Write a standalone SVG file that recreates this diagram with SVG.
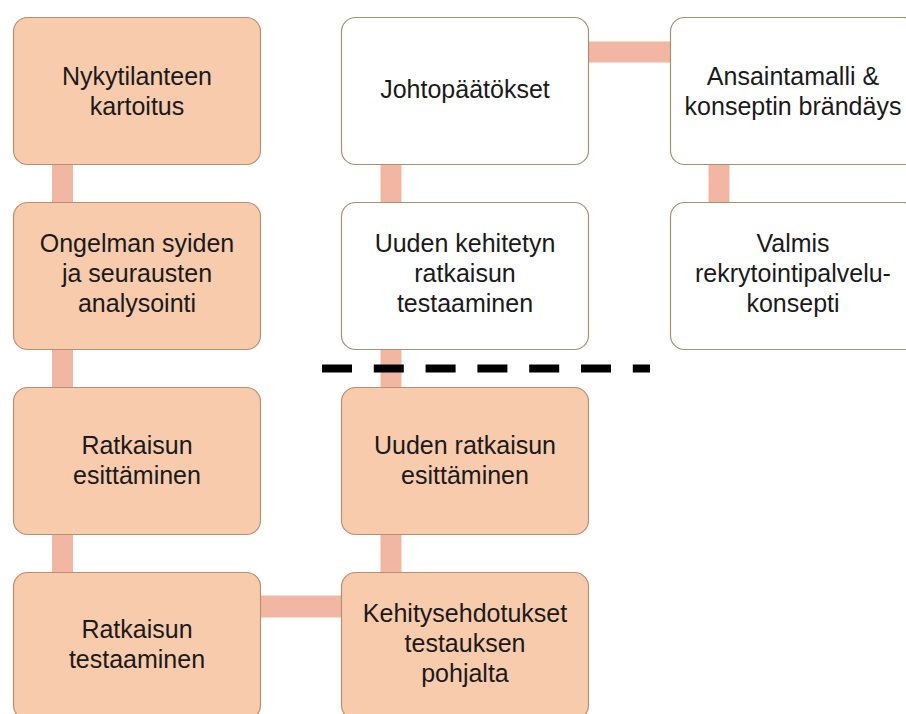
<svg xmlns="http://www.w3.org/2000/svg" width="906" height="714" viewBox="0 0 906 714">
<style>
.o{fill:#F8CBAD;stroke:#B8906F;stroke-width:1.2}
.w{fill:#FFFFFF;stroke:#A8916F;stroke-width:1.2}
.c{stroke:#F2B7A2;fill:none}
text{font-family:"Liberation Sans",Arial,sans-serif;font-size:25px;fill:#1a1a1a;text-anchor:middle}
</style>
<rect width="906" height="714" fill="#FFFFFF"/>
<g id="connectors">
<line class="c" x1="62.5" y1="91" x2="62.5" y2="646" stroke-width="21"/>
<line class="c" x1="391" y1="91" x2="391" y2="646" stroke-width="21"/>
<line class="c" x1="719" y1="91" x2="719" y2="276" stroke-width="21"/>
<line class="c" x1="465" y1="52" x2="794" y2="52" stroke-width="21"/>
<line class="c" x1="137" y1="606.5" x2="465" y2="606.5" stroke-width="22"/>
</g>
<g id="n1"><rect class="o" x="13.5" y="17.5" width="247" height="147" rx="14"/><text x="137" y="85">Nykytilanteen</text><text x="137" y="115">kartoitus</text></g>
<g id="n2"><rect class="o" x="13.5" y="202.5" width="247" height="147" rx="14"/><text x="137" y="252">Ongelman syiden</text><text x="137" y="282">ja seurausten</text><text x="137" y="312">analysointi</text></g>
<g id="n3"><rect class="o" x="13.5" y="387.5" width="247" height="147" rx="14"/><text x="137" y="454">Ratkaisun</text><text x="137" y="484">esittäminen</text></g>
<g id="n4"><rect class="o" x="13.5" y="572.5" width="247" height="147" rx="14"/><text x="137" y="638">Ratkaisun</text><text x="137" y="668">testaaminen</text></g>
<g id="n5"><rect class="o" x="341.5" y="572.5" width="247" height="147" rx="14"/><text x="465" y="622">Kehitysehdotukset</text><text x="465" y="652">testauksen</text><text x="465" y="682">pohjalta</text></g>
<g id="n6"><rect class="o" x="341.5" y="387.5" width="247" height="147" rx="14"/><text x="465" y="454">Uuden ratkaisun</text><text x="465" y="484">esittäminen</text></g>
<g id="n7"><rect class="w" x="341.5" y="202.5" width="247" height="147" rx="14"/><text x="465" y="252">Uuden kehitetyn</text><text x="465" y="282">ratkaisun</text><text x="465" y="312">testaaminen</text></g>
<g id="n8"><rect class="w" x="341.5" y="17.5" width="247" height="147" rx="14"/><text x="465" y="98">Johtopäätökset</text></g>
<g id="n9"><rect class="w" x="670.5" y="17.5" width="247" height="147" rx="14"/><text x="793" y="85">Ansaintamalli &amp;</text><text x="793" y="115">konseptin brändäys</text></g>
<g id="n10"><rect class="w" x="670.5" y="202.5" width="247" height="147" rx="14"/><text x="793" y="252">Valmis</text><text x="793" y="282">rekrytointipalvelu-</text><text x="793" y="312">konsepti</text></g>
<line id="divider" x1="322" y1="368.5" x2="650" y2="368.5" stroke="#000000" stroke-width="8" stroke-dasharray="30 21.8"/>
</svg>
